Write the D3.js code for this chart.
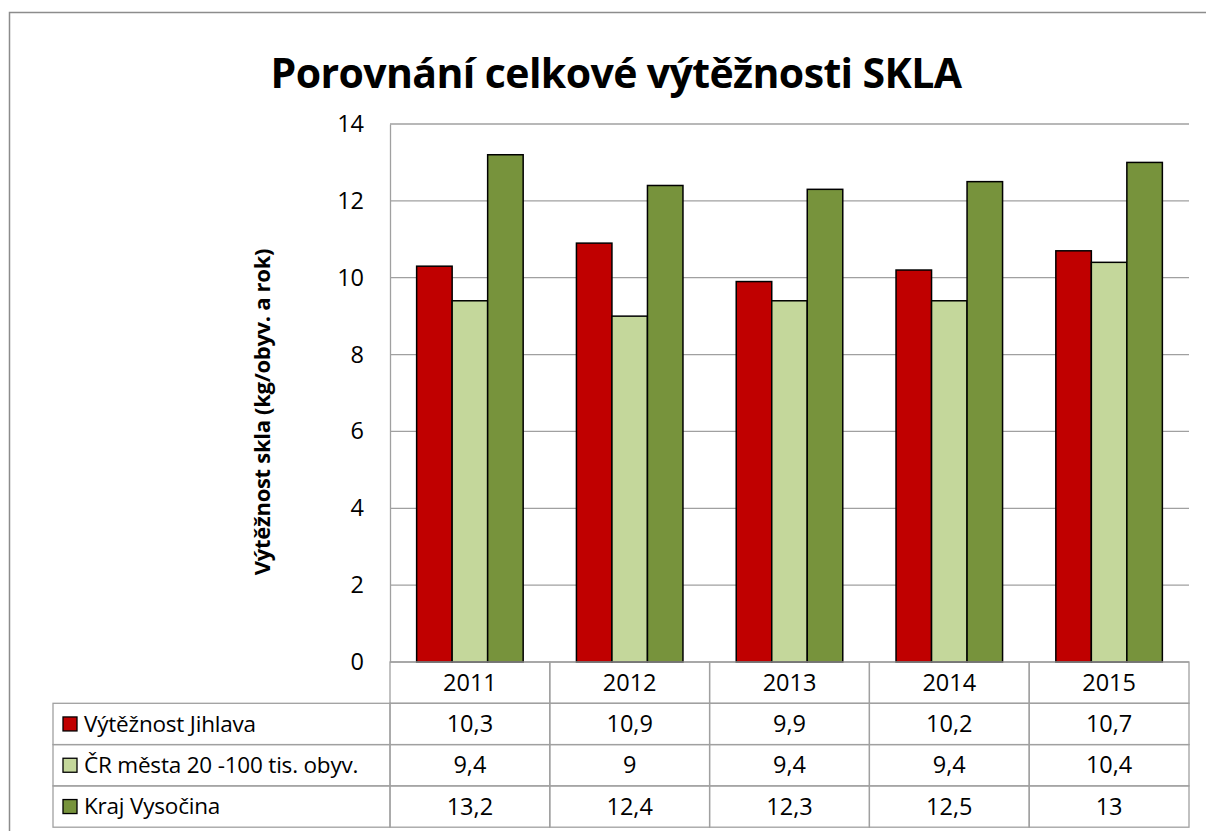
<!DOCTYPE html>
<html>
<head>
<meta charset="utf-8">
<script src="https://cdn.jsdelivr.net/npm/d3@7"></script>
<style>
  body { margin: 0; background: #fff; }
  svg { display: block; font-family: "Open Sans", sans-serif; }
</style>
</head>
<body>
<svg width="1206" height="831"></svg>
<script>
var years = ["2011", "2012", "2013", "2014", "2015"];
var seriesNames = ["Výtěžnost Jihlava", "ČR města 20 -100 tis. obyv.", "Kraj Vysočina"];
var jihlava = [10.3, 10.9, 9.9, 10.2, 10.7];
var crMesta = [9.4, 9, 9.4, 9.4, 10.4];
var vysocina = [13.2, 12.4, 12.3, 12.5, 13];
var yTicks = [0, 2, 4, 6, 8, 10, 12, 14];
var colors = ["#c00000", "#c4d79b", "#77933c"];

var series = [jihlava, crMesta, vysocina];
var fmt = v => String(v).replace(".", ",");

var svg = d3.select("svg");

// outer chart frame (only top and left visible)
svg.append("path")
    .attr("d", "M9.5,1000V12.5H1300")
    .attr("fill", "none")
    .attr("stroke", "#8c8c8c")
    .attr("stroke-width", 1.5);

var plot = { left: 390, right: 1189, top: 124, bottom: 662 };
var rowH = 41.3;
var legendLeft = 53;
var fs = 23.5;

var x = d3.scaleBand()
    .domain(years)
    .range([plot.left, plot.right]);

var x1 = d3.scaleBand()
    .domain(d3.range(series.length))
    .range([0, x.bandwidth()])
    .paddingOuter(0.75)
    .paddingInner(0);

var y = d3.scaleLinear()
    .domain([0, 14])
    .range([plot.bottom, plot.top]);

// title
svg.append("text")
    .attr("x", 616)
    .attr("y", 88)
    .attr("text-anchor", "middle")
    .attr("font-size", 41)
    .attr("font-weight", "bold")
    .attr("letter-spacing", -0.6)
    .text("Porovnání celkové výtěžnosti SKLA");

// gridlines
svg.append("g")
    .selectAll("line")
    .data(yTicks)
    .enter().append("line")
        .attr("x1", plot.left)
        .attr("x2", plot.right)
        .attr("y1", d => y(d))
        .attr("y2", d => y(d))
        .attr("stroke", "#a0a0a0")
        .attr("stroke-width", 1.3);

// y axis
var yAxis = svg.append("g")
    .attr("transform", `translate(${plot.left}, 0)`)
    .call(d3.axisLeft(y).tickValues(yTicks).tickSize(0).tickPadding(26));
yAxis.select(".domain")
    .attr("stroke", "#a0a0a0")
    .attr("stroke-width", 1.3);
yAxis.selectAll("text")
    .attr("font-family", "'Open Sans', sans-serif")
    .attr("font-size", fs)
    .attr("fill", "#000");

svg.append("text")
    .attr("transform", "translate(270, 412) rotate(-90)")
    .attr("text-anchor", "middle")
    .attr("font-size", 22)
    .attr("font-weight", "bold")
    .attr("letter-spacing", -0.3)
    .text("Výtěžnost skla (kg/obyv. a rok)");

// bars
svg.append("g")
    .selectAll("g")
    .data(series)
    .enter().append("g")
        .attr("fill", (d, i) => colors[i])
        .attr("transform", (d, i) => `translate(${x1(i)}, 0)`)
    .selectAll("rect")
    .data(d => d)
    .enter().append("rect")
        .attr("x", (d, j) => x(years[j]))
        .attr("y", d => y(d))
        .attr("width", x1.bandwidth())
        .attr("height", d => y(0) - y(d))
        .attr("stroke", "#000")
        .attr("stroke-width", 1.5);

// data table
var table = svg.append("g")
    .attr("stroke", "#a0a0a0")
    .attr("stroke-width", 1.3)
    .attr("fill", "none");

// header row (years)
years.forEach(function(yr) {
    table.append("rect")
        .attr("x", x(yr))
        .attr("y", plot.bottom)
        .attr("width", x.bandwidth())
        .attr("height", rowH);
    svg.append("text")
        .attr("x", x(yr) + x.bandwidth() / 2)
        .attr("y", plot.bottom + rowH / 2)
        .attr("dy", "0.35em")
        .attr("text-anchor", "middle")
        .attr("font-size", fs)
        .text(yr);
});

series.forEach(function(vals, i) {
    var ry = plot.bottom + rowH * (i + 1);
    table.append("rect")
        .attr("x", legendLeft)
        .attr("y", ry)
        .attr("width", plot.left - legendLeft)
        .attr("height", rowH);
    svg.append("rect")
        .attr("x", legendLeft + 10)
        .attr("y", ry + rowH / 2 - 7)
        .attr("width", 14)
        .attr("height", 14)
        .attr("fill", colors[i])
        .attr("stroke", "#000")
        .attr("stroke-width", 1.3);
    svg.append("text")
        .attr("x", legendLeft + 31)
        .attr("y", ry + rowH / 2)
        .attr("dy", "0.35em")
        .attr("font-size", 22.5)
        .attr("letter-spacing", -0.2)
        .text(seriesNames[i]);
    vals.forEach(function(v, j) {
        table.append("rect")
            .attr("x", x(years[j]))
            .attr("y", ry)
            .attr("width", x.bandwidth())
            .attr("height", rowH);
        svg.append("text")
            .attr("x", x(years[j]) + x.bandwidth() / 2)
            .attr("y", ry + rowH / 2)
            .attr("dy", "0.35em")
            .attr("text-anchor", "middle")
            .attr("font-size", fs)
            .text(fmt(v));
    });
});
</script>
</body>
</html>
